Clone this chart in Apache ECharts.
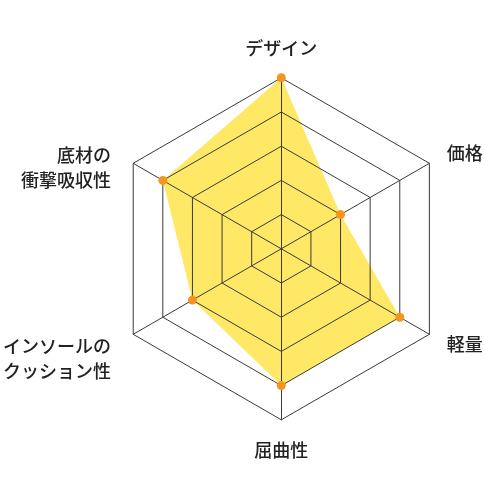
<!DOCTYPE html>
<html>
<head>
<meta charset="utf-8">
<script src="https://cdn.jsdelivr.net/npm/echarts@6/dist/echarts.min.js"></script>
<style>
  html, body { margin: 0; padding: 0; background: #fff; }
  #main { width: 485px; height: 485px; }
</style>
</head>
<body>
<div id="main"></div>
<script>
// 項目（上から反時計回り）
var indicatorNames = ['デザイン', '底材の\n衝撃吸収性', 'インソールの\nクッション性', '屈曲性', '軽量', '価格'];
var scores = [5, 4, 3, 4, 4, 2];
var maxScore = 5;

var myChart = echarts.init(document.getElementById('main'));
var indicator = [];
for (var i = 0; i < indicatorNames.length; i++) {
    indicator.push({name: indicatorNames[i], max: maxScore, min: 0});
}
var option = {
    textStyle: {fontFamily: '"Noto Sans CJK JP", sans-serif'},
    radar: {
        center: ['58%', '51.3%'],
        radius: 171,
        startAngle: 90,
        splitNumber: 5,
        indicator: indicator,
        nameGap: 20,
        shape: 'polygon',
        z: 3,
        axisName: {
            color: '#222',
            fontSize: 18,
            fontWeight: 500,
            fontFamily: '"Noto Sans CJK JP", sans-serif',
            formatter: function (name) {
                if (name.indexOf('\n') >= 0) {
                    // 2行の項目は少し下げる
                    return '{s| }\n{m|' + name.split('\n').join('}\n{m|') + '}';
                }
                return '{n|' + name + '}';
            },
            rich: {
                s: {fontSize: 10, lineHeight: 29},
                m: {fontSize: 18, lineHeight: 25, fontWeight: 500, color: '#222', padding: [0, 5, 0, 0]},
                n: {fontSize: 18, lineHeight: 20, fontWeight: 500, color: '#222'}
            }
        },
        axisLine: {lineStyle: {color: '#3a3a3a', width: 1}},
        splitLine: {lineStyle: {color: '#3a3a3a', width: 1}},
        splitArea: {show: false}
    },
    series: [{
        type: 'radar',
        z: 1,
        symbol: 'none',
        lineStyle: {width: 0},
        areaStyle: {color: '#ffe866', opacity: 1},
        data: [{value: scores}]
    }, {
        type: 'radar',
        z: 5,
        symbol: 'circle',
        symbolSize: 9,
        itemStyle: {color: '#f7941d'},
        lineStyle: {width: 0, opacity: 0},
        data: [{value: scores}]
    }]
};
myChart.setOption(option);
</script>
</body>
</html>
